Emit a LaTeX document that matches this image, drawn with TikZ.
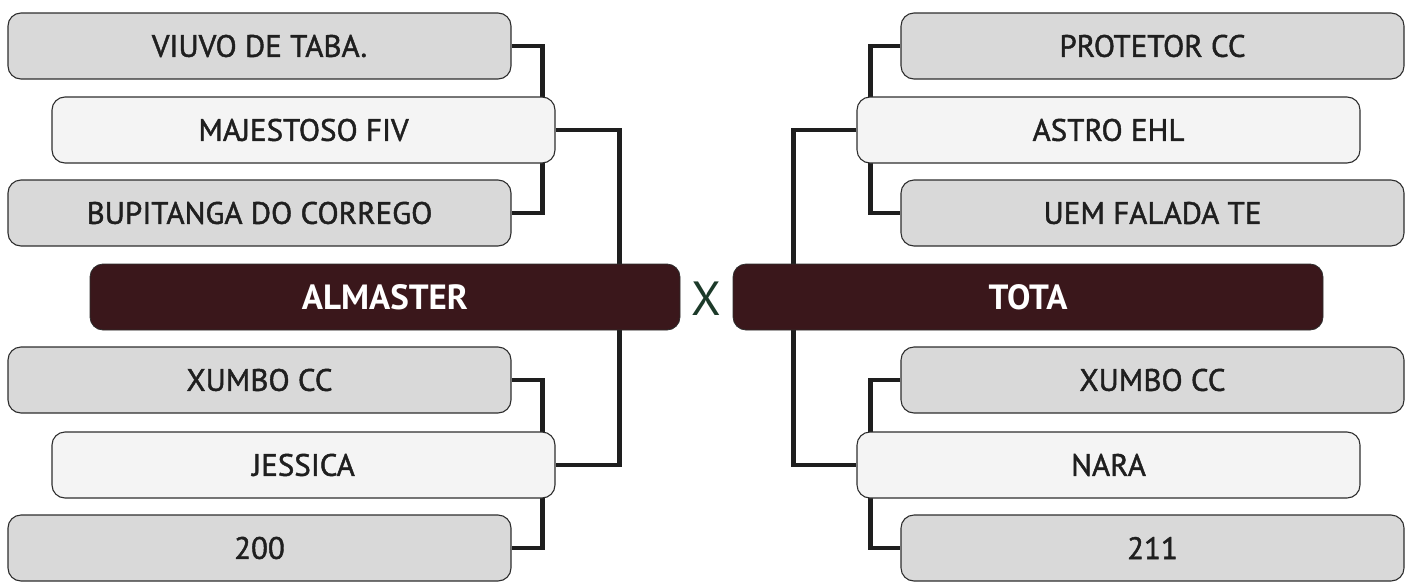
\documentclass[tikz,border=0pt]{standalone}
\usepackage{fontspec}
\setmainfont{PT Sans}
\newfontfamily\teamfont[FakeBold=1.4]{PT Sans}
\usetikzlibrary{positioning,backgrounds}
\definecolor{boxgray}{HTML}{D9D9D9}
\definecolor{boxwhite}{HTML}{F4F4F4}
\definecolor{boxline}{HTML}{2E2E2E}
\definecolor{wine}{HTML}{3A171B}
\definecolor{wire}{HTML}{1E1E1E}
\definecolor{vsgreen}{HTML}{1C3A29}
\begin{document}
\begin{tikzpicture}[x=1pt,y=-1pt,>=latex]
	\tikzset{team/.style = {shape=rectangle,rounded corners=13pt,draw=boxline,line width=1.1pt,
		minimum width=503pt,minimum height=66pt,inner sep=0pt,text=black!88,font=\teamfont\fontsize{31}{31}\selectfont}}
	\tikzset{side/.style = {team,fill=boxgray}}
	\tikzset{pick/.style = {team,fill=boxwhite}}
	\tikzset{final/.style = {shape=rectangle,rounded corners=13pt,fill=wine,draw=boxline,line width=0.8pt,
		minimum width=590pt,minimum height=66pt,inner sep=0pt,text=white,font=\fontsize{35}{35}\selectfont\bfseries}}
	\tikzset{edge/.style = {draw=wire,line width=4.5pt}}
	\useasboundingbox (0,0) rectangle (1412,581);
	% vertices
	\node[side] (VT) at (259.5,46) {VIUVO DE TABA.};
	\node[pick] (MF) at (303.5,130) {MAJESTOSO FIV};
	\node[side] (BC) at (259.5,213) {BUPITANGA DO CORREGO};
	\node[final] (AL) at (385,297) {ALMASTER};
	\node[side] (XL) at (259.5,380) {XUMBO CC};
	\node[pick] (JE) at (303.5,465) {JESSICA};
	\node[side] (DC) at (259.5,548) {200};
	\node[text=vsgreen,font=\fontsize{48}{48}\selectfont] (VS) at (706,299) {X};
	\node[side] (PC) at (1152.5,46) {PROTETOR CC};
	\node[pick] (AE) at (1108.5,130) {ASTRO EHL};
	\node[side] (UF) at (1152.5,213) {UEM FALADA TE};
	\node[final] (TO) at (1028,297) {TOTA};
	\node[side] (XR) at (1152.5,380) {XUMBO CC};
	\node[pick] (NA) at (1108.5,465) {NARA};
	\node[side] (DO) at (1152.5,548) {211};
	%edges
	\begin{pgfonlayer}{background}
	\draw[edge] (VT.east) -- ++(31,0) |- (BC.east);
	\draw[edge] (MF.east) -- ++(64,0) |- (JE.east);
	\draw[edge] (XL.east) -- ++(31,0) |- (DC.east);
	\draw[edge] (PC.west) -- ++(-30,0) |- (UF.west);
	\draw[edge] (AE.west) -- ++(-63,0) |- (NA.west);
	\draw[edge] (XR.west) -- ++(-30,0) |- (DO.west);
	\end{pgfonlayer}
\end{tikzpicture}
\end{document}
